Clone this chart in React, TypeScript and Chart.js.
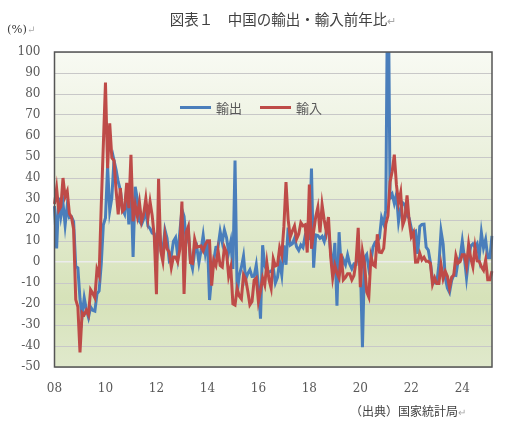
import React, { useEffect, useRef } from "react";
import { Chart, registerables } from "chart.js";

Chart.register(...registerables);

// Monthly categories: Jan 2008 .. Mar 2025
const startYear = 2008;
const monthCount = 207;
const categories: string[] = [];
for (let i = 0; i < monthCount; i++) {
  const y = startYear + Math.floor(i / 12);
  const m = (i % 12) + 1;
  categories.push(`${y}-${m < 10 ? "0" + m : m}`);
}

const xTickLabels = ["08", "10", "12", "14", "16", "18", "20", "22", "24"];

// 輸出 (exports) YoY %, monthly
const exportsYoY: number[] = [
  // 2008
  26.6, 6.5, 30.6, 21.8, 28.1, 17.6, 26.9, 21.1, 21.5, 19.2, -2.2, -2.8,
  // 2009
  -17.5, -25.7, -17.1, -22.6, -26.4, -21.4, -23, -23.4, -15.2, -13.8, -1.2, 17.7,
  // 2010
  21, 45.7, 24.3, 30.5, 48.5, 43.9, 38.1, 34.4, 25.1, 22.9, 34.9, 17.9,
  // 2011
  37.7, 2.4, 35.8, 29.9, 19.4, 17.9, 20.4, 24.5, 17.1, 15.9, 13.8, 13.4,
  // 2012
  -0.5, 18.4, 8.9, 4.9, 15.3, 11.3, 1.0, 2.7, 9.9, 11.6, 2.9, 14.1,
  // 2013
  25, 21.8, 10, 14.7, 1, -3.1, 5.1, 7.2, -0.3, 5.6, 12.7, 4.3,
  // 2014
  10.6, -18.1, -6.6, 0.9, 7, 7.2, 14.5, 9.4, 15.3, 11.6, 4.7, 9.7,
  // 2015
  -3.3, 48.3, -15, -6.4, -2.5, 2.8, -8.3, -5.5, -3.7, -6.9, -6.8, -1.4,
  // 2016
  -11.2, -27, 8, -1.8, -4.1, -4.8, -4.4, -2.8, -10, -7.3, 0.1, -6.1,
  // 2017
  7.9, -1.3, 16.4, 8, 8.7, 11.3, 7.2, 5.5, 8.1, 6.9, 12.3, 10.9,
  // 2018
  11.1, 44.5, -2.7, 12.9, 12.6, 11.3, 12.2, 9.8, 14.5, 15.6, 5.4, -4.4,
  // 2019
  9.1, -20.8, 14.2, -2.7, 1.1, -1.3, 3.3, -1, -3.2, -0.9, -1.1, 7.6,
  // 2020
  -0.3, -40.6, 2, 3.5, -3.3, 0.5, 7.2, 9.5, 9.9, 11.4, 21.1, 18.1,
  // 2021
  24.7, 154.9, 30.6, 32.3, 27.9, 32.2, 19.3, 25.6, 28.1, 27.1, 22, 20.9,
  // 2022
  16, 14, 14.7, 3.9, 16.9, 17.9, 18, 7.1, 5.7, -0.3, -8.7, -9.9,
  // 2023
  -10, -1.3, 14.8, 8.5, -7.5, -12.4, -14.5, -8.8, -6.2, -6.4, 0.5, 2.3,
  // 2024
  10, 2, -7.5, 1.5, 7.6, 8.6, 7, 8.7, 2.4, 14, 6.7, 10.7,
  // 2025
  2, 2, 12.4,
];

// 輸入 (imports) YoY %, monthly
const importsYoY: number[] = [
  // 2008
  27.6, 35.1, 24.6, 26.4, 40, 31.1, 33.7, 23.1, 21.3, 15.6, -17.9, -21.3,
  // 2009
  -43.1, -24.1, -25.1, -23, -25.2, -13.2, -14.9, -17, -3.5, -6.4, 26.7, 55.9,
  // 2010
  85.5, 44.7, 66, 49.7, 48.3, 34.1, 22.7, 35.2, 24.1, 25.3, 37.7, 25.6,
  // 2011
  51, 19.4, 27.3, 21.8, 28.4, 19.3, 22.9, 30.2, 20.9, 28.7, 22.1, 11.8,
  // 2012
  -15.3, 39.6, 5.3, 0.3, 12.7, 6.3, 4.7, -2.6, 2.4, 2.4, 0, 6,
  // 2013
  28.8, -15.2, 14.1, 16.8, -0.3, -0.7, 10.9, 7, 7.4, 7.6, 5.3, 8.3,
  // 2014
  10, 10.1, -11.3, 0.8, -1.6, 5.5, -1.6, -2.4, 7, 4.6, -6.7, -2.4,
  // 2015
  -19.9, -20.5, -12.7, -16.2, -17.6, -6.1, -8.1, -13.8, -20.4, -18.8, -8.7, -7.6,
  // 2016
  -18.8, -13.8, -7.6, -10.9, -0.4, -8.4, -12.5, 1.5, -1.9, -1.4, 6.7, 3.1,
  // 2017
  16.7, 38.1, 20.3, 11.9, 14.8, 17.2, 11, 13.3, 18.7, 17.2, 17.7, 4.5,
  // 2018
  36.9, 6.3, 14.4, 21.5, 26, 14.1, 27.3, 20, 14.3, 21.4, 3, -7.6,
  // 2019
  -1.5, -5.2, -7.6, 4, -8.5, -7.3, -5.6, -5.6, -8.5, -6.4, 0.3, 16.3,
  // 2020
  -12, 5, -0.9, -14.2, -16.7, 2.7, -1.4, -2.1, 13.2, 4.7, 4.5, 6.5,
  // 2021
  18, 22, 38.1, 43.1, 51.1, 36.7, 28.1, 33.1, 17.6, 20.6, 31.7, 19.5,
  // 2022
  12, 14, -0.1, 0, 4.1, 1, 2.3, 0.3, 0.3, -0.7, -10.6, -7.5,
  // 2023
  -10.2, -10.2, -1.4, -7.9, -4.5, -6.8, -12.4, -7.3, -6.2, 3, -0.6, 0.2,
  // 2024
  3.5, 3.5, -1.9, 8.4, 1.8, -2.3, 7.2, 0.5, 0.3, -2.3, -3.9, 1,
  // 2025
  -8.4, -8.4, -4.3,
];

const seriesNames = ["輸出", "輸入"];
const seriesColors = ["#4a7ebb", "#be4b48"];

const plotBgPlugin = {
  id: "plotBg",
  beforeDraw(chart: any) {
    const { ctx, chartArea } = chart;
    if (!chartArea) return;
    const g = ctx.createLinearGradient(0, chartArea.top, 0, chartArea.bottom);
    g.addColorStop(0, "#f8faf3");
    g.addColorStop(0.45, "#e6edd5");
    g.addColorStop(0.78, "#d6e2b9");
    g.addColorStop(1, "#e0e9cc");
    ctx.save();
    ctx.fillStyle = g;
    ctx.fillRect(chartArea.left, chartArea.top, chartArea.right - chartArea.left, chartArea.bottom - chartArea.top);
    ctx.restore();
  },
  afterDatasetsDraw(chart: any) {
    const { ctx, chartArea } = chart;
    ctx.save();
    ctx.strokeStyle = "#555555";
    ctx.lineWidth = 1.5;
    ctx.strokeRect(chartArea.left, chartArea.top, chartArea.right - chartArea.left, chartArea.bottom - chartArea.top);
    ctx.restore();
  },
};

export default function App() {
  const canvasRef = useRef<HTMLCanvasElement | null>(null);

  useEffect(() => {
    if (!canvasRef.current) return;
    const chart = new Chart(canvasRef.current, {
      type: "line",
      data: {
        labels: categories,
        datasets: [
          {
            label: seriesNames[0],
            data: exportsYoY,
            borderColor: seriesColors[0],
            backgroundColor: seriesColors[0],
            borderWidth: 3,
            pointRadius: 0,
            tension: 0,
            fill: false,
            order: 1,
          },
          {
            label: seriesNames[1],
            data: importsYoY,
            borderColor: seriesColors[1],
            backgroundColor: seriesColors[1],
            borderWidth: 3,
            pointRadius: 0,
            tension: 0,
            fill: false,
            order: 0,
          },
        ],
      },
      options: {
        animation: false,
        responsive: false,
        maintainAspectRatio: false,
        events: [],
        layout: { padding: { left: 0, top: 52, right: 13, bottom: 0 } },
        plugins: {
          legend: { display: false },
          tooltip: { enabled: false },
        },
        scales: {
          x: {
            type: "category",
            grid: { display: false, drawTicks: false },
            border: { display: false },
            ticks: {
              autoSkip: false,
              maxRotation: 0,
              minRotation: 0,
              padding: 15,
              color: "#595959",
              font: { family: "DejaVu Serif", size: 12 },
              callback: (_v: any, i: number) => (i % 24 === 0 ? xTickLabels[i / 24] ?? "" : ""),
            },
            afterFit: (s: any) => {
              s.height = 60;
            },
          },
          y: {
            min: -50,
            max: 100,
            ticks: {
              stepSize: 10,
              padding: 14,
              color: "#595959",
              font: { family: "DejaVu Serif", size: 12 },
            },
            grid: {
              drawTicks: false,
              color: (c: any) => (c.tick && c.tick.value === 0 ? "#ececec" : "#c8c8c8"),
              lineWidth: (c: any) => (c.tick && c.tick.value === 0 ? 1.5 : 1),
            },
            border: { display: false },
            afterFit: (s: any) => {
              s.width = 54.5;
            },
          },
        },
      },
      plugins: [plotBgPlugin],
    });
    return () => chart.destroy();
  }, []);

  const gray = "#404040";
  const markColor = "#a8a8a8";

  return (
    <div
      style={{
        position: "fixed",
        left: 0,
        top: 0,
        width: 507,
        height: 427,
        background: "#ffffff",
        overflow: "hidden",
      }}
    >
      <canvas ref={canvasRef} width={507} height={427} style={{ position: "absolute", left: 0, top: 0, width: 507, height: 427 }} />
      <div
        style={{
          position: "absolute",
          left: 0,
          width: 566,
          top: 9,
          textAlign: "center",
          fontFamily: '"Noto Sans CJK JP", sans-serif',
          fontSize: 14.5,
          color: gray,
          whiteSpace: "nowrap",
          lineHeight: "20px",
        }}
      >
        図表１　中国の輸出・輸入前年比<span style={{ color: markColor, fontSize: 11 }}>↵</span>
      </div>
      <div
        style={{
          position: "absolute",
          left: 7,
          top: 20,
          fontFamily: '"DejaVu Serif", serif',
          fontSize: 11.5,
          color: gray,
          whiteSpace: "nowrap",
          lineHeight: "18px",
        }}
      >
        (%)<span style={{ color: markColor, fontSize: 10 }}>↵</span>
      </div>
      <div
        style={{
          position: "absolute",
          left: 180,
          top: 98,
          display: "flex",
          alignItems: "center",
          fontFamily: '"Noto Sans CJK JP", sans-serif',
          fontSize: 13,
          color: "#595959",
          whiteSpace: "nowrap",
          height: 18,
        }}
      >
        <span style={{ display: "inline-block", width: 31, height: 3, background: seriesColors[0], marginRight: 5 }} />
        <span>{seriesNames[0]}</span>
        <span style={{ display: "inline-block", width: 31, height: 3, background: seriesColors[1], marginLeft: 18, marginRight: 5 }} />
        <span>{seriesNames[1]}</span>
      </div>
      <div
        style={{
          position: "absolute",
          left: 350,
          top: 402,
          fontFamily: '"Noto Sans CJK JP", sans-serif',
          fontSize: 12,
          color: gray,
          whiteSpace: "nowrap",
          lineHeight: "18px",
        }}
      >
        （出典）国家統計局<span style={{ color: markColor, fontSize: 10 }}>↵</span>
      </div>
    </div>
  );
}
